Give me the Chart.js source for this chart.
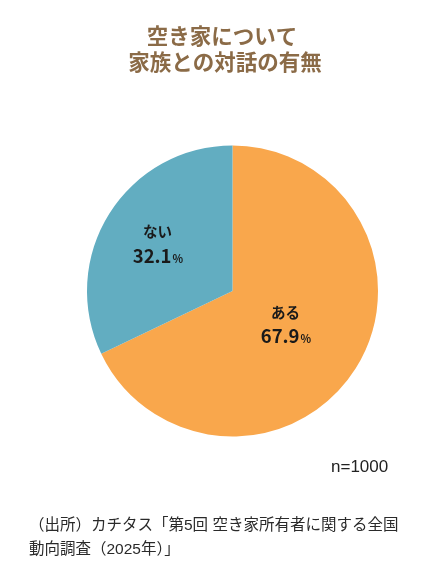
<!DOCTYPE html>
<html><head><meta charset="utf-8">
<script src="https://cdn.jsdelivr.net/npm/chart.js@4/dist/chart.umd.min.js"></script>
<style>html,body{margin:0;padding:0;background:#fff;}#wrap{position:relative;width:444px;height:580px;}</style>
</head><body><div id="wrap"><canvas id="c" width="444" height="580"></canvas></div>
<script>
const categories = ["ある", "ない"];
const values = [67.9, 32.1];
const colors = ["#F9A74C", "#62ADC1"];
const titleLines = ["空き家について", "家族との対話の有無"];
const sampleNote = "n=1000";
const sourceLines = ["（出所）カチタス「第5回 空き家所有者に関する全国", "動向調査（2025年）」"];

const JP = '"Noto Sans CJK JP", "Noto Sans", sans-serif';
const MIX = '"Liberation Sans", "Noto Sans CJK JP", sans-serif';

const textPlugin = {
  id: 'texts',
  afterDraw(chart) {
    const ctx = chart.ctx;
    ctx.save();
    // title
    ctx.fillStyle = '#8B6B47';
    ctx.font = 'bold 21.5px ' + JP;
    ctx.textAlign = 'center';
    ctx.textBaseline = 'middle';
    ctx.fillText(titleLines[0], 222, 36);
    ctx.fillText(titleLines[1], 225, 62);
    // slice labels
    const meta = chart.getDatasetMeta(0);
    const factors = [0.43, 0.61];
    meta.data.forEach((arc, i) => {
      const p = arc.getProps(['x','y','startAngle','endAngle','outerRadius'], true);
      const mid = (p.startAngle + p.endAngle) / 2;
      const r = p.outerRadius * factors[i];
      const cx = p.x + Math.cos(mid) * r;
      const cy = p.y + Math.sin(mid) * r;
      ctx.fillStyle = '#1a1a1a';
      ctx.textBaseline = 'middle';
      ctx.textAlign = 'center';
      ctx.font = 'bold 14.5px ' + JP;
      ctx.fillText(categories[i], cx, cy - 12);
      const num = values[i].toFixed(1);
      ctx.font = 'bold 18.5px ' + JP;
      const w1 = ctx.measureText(num).width;
      ctx.font = 'bold 11px ' + JP;
      const w2 = ctx.measureText('%').width;
      const x0 = cx - (w1 + w2) / 2;
      ctx.textAlign = 'left';
      ctx.textBaseline = 'alphabetic';
      ctx.font = 'bold 18.5px ' + JP;
      ctx.fillText(num, x0, cy + 19);
      ctx.font = 'bold 11px ' + JP;
      ctx.fillText('%', x0 + w1 + 1, cy + 19);
    });
    // n
    ctx.fillStyle = '#222';
    ctx.font = '17px ' + MIX;
    ctx.textAlign = 'left';
    ctx.textBaseline = 'middle';
    ctx.fillText(sampleNote, 331, 467);
    ctx.fillStyle = '#2a2a2a';
    ctx.font = '15.5px ' + MIX;
    ctx.fillText(sourceLines[0], 29, 526);
    ctx.fillText(sourceLines[1], 29, 550);
    ctx.restore();
  }
};

new Chart(document.getElementById('c'), {
  type: 'pie',
  data: {
    labels: categories,
    datasets: [{ data: values, backgroundColor: colors, borderWidth: 0, hoverOffset: 0 }]
  },
  options: {
    responsive: false,
    animation: false,
    layout: { padding: { top: 145, bottom: 143, left: 87, right: 66 } },
    plugins: { legend: { display: false }, title: { display: false }, tooltip: { enabled: false } }
  },
  plugins: [textPlugin]
});
</script></body></html>
